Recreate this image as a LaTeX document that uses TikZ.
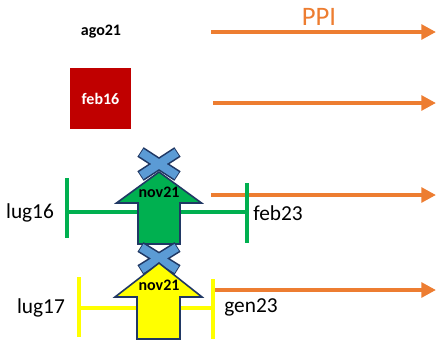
\documentclass[tikz,border=0pt]{standalone}
\usepackage{fontspec}
\setmainfont{Carlito}
\usetikzlibrary{arrows.meta}
\definecolor{ppiorange}{HTML}{ED7D31}
\definecolor{pgreen}{HTML}{00B050}
\definecolor{pyellow}{HTML}{FFFF00}
\definecolor{pblue}{HTML}{5B9BD5}
\definecolor{pnavy}{HTML}{203864}
\definecolor{pred}{HTML}{C00000}
\tikzset{
  ppiarrow/.style={draw=ppiorange, line width=3pt, -{Triangle[length=11pt,width=11pt]}},
  rangeline/.style={line width=2.3pt},
  bigarrow/.style={draw=pnavy, line width=1.2pt, line join=miter},
  crossout/.style={draw=pnavy, line width=8.6pt, line cap=butt},
  crossin/.style={draw=pblue, line width=6.2pt, line cap=butt},
  datelbl/.style={font=\fontsize{16}{18}\selectfont, inner sep=0pt},
  boldlbl/.style={font=\fontsize{12}{14}\selectfont\bfseries, inner sep=0pt},
}
\begin{document}
\begin{tikzpicture}[x=0.75pt, y=-0.75pt]
\useasboundingbox (0,0) rectangle (436,347);
% orange arrows
\coordinate (a1s) at (211,32);  \coordinate (a1e) at (436,32);
\coordinate (a2s) at (213,103); \coordinate (a2e) at (436,103);
\coordinate (a3s) at (211,195); \coordinate (a3e) at (436,195);
\coordinate (a4s) at (215,290); \coordinate (a4e) at (436,290);
\draw[ppiarrow] (a1s) -- (a1e);
\draw[ppiarrow] (a2s) -- (a2e);
\draw[ppiarrow] (a3s) -- (a3e);
\draw[ppiarrow] (a4s) -- (a4e);
\node[font=\fontsize{20}{22}\selectfont, text=ppiorange, inner sep=0pt] (ppi) at (319,17) {PPI};

% top labels
\node[boldlbl] (ago) at (101,32) {ago21};
\node[fill=pred, minimum width=61*0.75pt, minimum height=61*0.75pt, inner sep=0pt,
      text=white, font=\fontsize{12}{14}\selectfont\bfseries] (feb16) at (100.5,98.5) {feb16};

% green range
\coordinate (gL) at (67,212); \coordinate (gR) at (247,212);
\draw[rangeline, pgreen] (gL) -- (gR);
\draw[rangeline, pgreen] (67,178) -- (67,238);
\draw[rangeline, pgreen] (247,183) -- (247,243);
\node[datelbl] (lug16) at (30,213) {lug16};
\node[datelbl] (feb23) at (278,213) {feb23};

% green cross + arrow
\draw[crossout] (140.5,152) -- (177.5,176) (140.5,176) -- (177.5,152);
\draw[crossin] (141.3,152.5) -- (176.7,175.5) (141.3,175.5) -- (176.7,152.5);
\draw[bigarrow, fill=pgreen] (159,172) -- (201.5,203) -- (180,203) -- (180,244)
   -- (138,244) -- (138,203) -- (116.5,203) -- cycle;
\node[boldlbl] (nov1) at (159,192) {nov21};

% yellow range
\coordinate (yL) at (79,308); \coordinate (yR) at (213,308);
\draw[rangeline, pyellow] (yL) -- (yR);
\draw[rangeline, pyellow] (79,277) -- (79,337);
\draw[rangeline, pyellow] (213,279) -- (213,339);
\node[datelbl] (lug17) at (41,308) {lug17};
\node[datelbl] (gen23) at (251,307) {gen23};

% yellow cross + arrow
\draw[crossout] (140.5,247) -- (177.5,270) (140.5,270) -- (177.5,247);
\draw[crossin] (141.3,247.5) -- (176.7,269.5) (141.3,269.5) -- (176.7,247.5);
\draw[bigarrow, fill=pyellow] (159,263) -- (202,297) -- (180,297) -- (180,339)
   -- (137,339) -- (137,297) -- (115,297) -- cycle;
\node[boldlbl] (nov2) at (159,285) {nov21};
\end{tikzpicture}
\end{document}
